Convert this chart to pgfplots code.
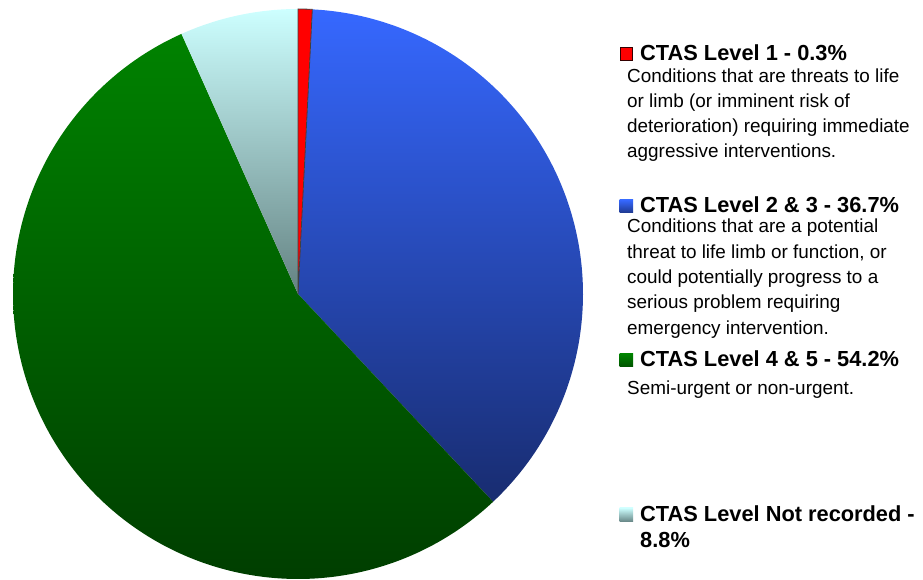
\documentclass[border=0pt]{standalone}
\usepackage{pgfplots}
\pgfplotsset{compat=1.18}
\usepackage{pgfplotstable}
\usepackage{fontspec}
\setmainfont{Liberation Sans}

\definecolor{redf}{RGB}{255,0,0}
\definecolor{bluetop}{RGB}{54,104,255}
\definecolor{bluebot}{RGB}{24,44,112}
\definecolor{greentop}{RGB}{0,130,0}
\definecolor{greenbot}{RGB}{0,62,0}
\definecolor{graytop}{RGB}{205,255,255}
\definecolor{graybot}{RGB}{100,130,130}

\pgfplotstableread{
slice value
1 0.8
2 37.2
3 55.3
4 6.7
}\piedata

\newcommand\desc{\fontsize{18.9}{25}\selectfont}
\newcommand\head{\fontsize{21.8}{25}\selectfont\bfseries}

\begin{document}%
\begin{tikzpicture}
\pgfplotstablegetelem{0}{value}\of\piedata\pgfmathsetmacro\vA{\pgfplotsretval}
\pgfplotstablegetelem{1}{value}\of\piedata\pgfmathsetmacro\vB{\pgfplotsretval}
\pgfplotstablegetelem{2}{value}\of\piedata\pgfmathsetmacro\vC{\pgfplotsretval}
\pgfplotstablegetelem{3}{value}\of\piedata\pgfmathsetmacro\vD{\pgfplotsretval}
\pgfmathsetmacro\aO{90}
\pgfmathsetmacro\aA{\aO-3.6*\vA}
\pgfmathsetmacro\aB{\aA-3.6*\vB}
\pgfmathsetmacro\aC{\aB-3.6*\vC}
\pgfmathsetmacro\aD{\aC-3.6*\vD}
\begin{axis}[x=1pt, y=1pt, xmin=0, xmax=923, ymin=-580, ymax=0,
  hide axis, clip=false, scale only axis]
\coordinate (BL) at (axis cs:0,-580);
\coordinate (TR) at (axis cs:923,0);
% pie slices
\addplot[draw=none, top color=bluetop, bottom color=bluebot, domain=\aB:\aA, samples=150, variable=\t]
  ({298+285*cos(\t)},{-294+285*sin(\t)}) -- (axis cs:298,-294) -- cycle;
\addplot[draw=none, top color=greentop, bottom color=greenbot, domain=\aC:\aB, samples=200, variable=\t]
  ({298+285*cos(\t)},{-294+285*sin(\t)}) -- (axis cs:298,-294) -- cycle;
\addplot[draw=none, top color=graytop, bottom color=graybot, domain=\aD:\aC, samples=60, variable=\t]
  ({298+285*cos(\t)},{-294+285*sin(\t)}) -- (axis cs:298,-294) -- cycle;
\addplot[draw=black!75, line width=0.8pt, fill=redf, domain=\aA:\aO, samples=6, variable=\t]
  ({298+285*cos(\t)},{-294+285*sin(\t)}) -- (axis cs:298,-294) -- cycle;
% legend squares
\addplot[draw=black!80!red, line width=0.8pt, fill=redf] coordinates {(620,-47.5) (632.5,-47.5) (632.5,-60) (620,-60)} -- cycle;
\addplot[draw=none, top color=bluetop, bottom color=bluebot!80!bluetop] coordinates {(619.5,-200) (633,-200) (633,-213) (619.5,-213)} -- cycle;
\addplot[draw=none, top color=greentop, bottom color=greenbot!70!greentop] coordinates {(619.5,-354) (633,-354) (633,-367) (619.5,-367)} -- cycle;
\addplot[draw=none, top color=graytop, bottom color=graybot] coordinates {(619.5,-508) (633,-508) (633,-522) (619.5,-522)} -- cycle;
% legend texts
\node[anchor=base west, inner sep=0pt] at (axis cs:640,-60.5) {\head CTAS Level 1 - 0.3\%};
\node[anchor=base west, inner sep=0pt] at (axis cs:627,-83) {\desc Conditions that are threats to life};
\node[anchor=base west, inner sep=0pt] at (axis cs:627,-108) {\desc or limb (or imminent risk of};
\node[anchor=base west, inner sep=0pt] at (axis cs:627,-133) {\desc deterioration) requiring immediate};
\node[anchor=base west, inner sep=0pt] at (axis cs:627,-158) {\desc aggressive interventions.};

\node[anchor=base west, inner sep=0pt] at (axis cs:640,-213) {\head CTAS Level 2 \& 3 - 36.7\%};
\node[anchor=base west, inner sep=0pt] at (axis cs:627,-233) {\desc Conditions that are a potential};
\node[anchor=base west, inner sep=0pt] at (axis cs:627,-259) {\desc threat to life limb or function, or};
\node[anchor=base west, inner sep=0pt] at (axis cs:627,-284) {\desc could potentially progress to a};
\node[anchor=base west, inner sep=0pt] at (axis cs:627,-309) {\desc serious problem requiring};
\node[anchor=base west, inner sep=0pt] at (axis cs:627,-335) {\desc emergency intervention.};

\node[anchor=base west, inner sep=0pt] at (axis cs:640,-367) {\head CTAS Level 4 \& 5 - 54.2\%};
\node[anchor=base west, inner sep=0pt] at (axis cs:627,-395) {\desc Semi-urgent or non-urgent.};

\node[anchor=base west, inner sep=0pt] at (axis cs:640,-522) {\head CTAS Level Not recorded -};
\node[anchor=base west, inner sep=0pt] at (axis cs:640,-548) {\head 8.8\%};
\end{axis}
\pgfresetboundingbox
\path[use as bounding box] (BL) rectangle (TR);
\end{tikzpicture}%
\end{document}
